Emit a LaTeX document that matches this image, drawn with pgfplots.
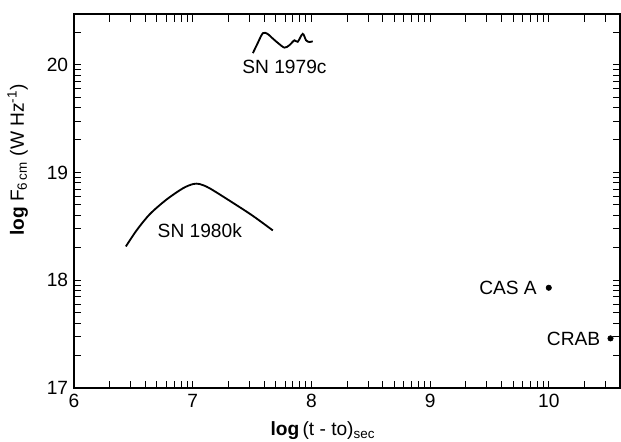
\documentclass[border=0pt]{standalone}
\usepackage{fontspec}
\setmainfont{Liberation Sans}
\usepackage{pgfplots}
\pgfplotsset{compat=1.18}
\begin{document}
\begin{tikzpicture}
\begin{axis}[name=ax, scale only axis, width=327.6pt, height=224.4pt,
 xmin=6, xmax=10.6, ymin=17, ymax=20.47,
 xtick={6,7,8,9,10}, ytick={17,18,19,20},
 minor xtick={6.301,6.477,6.602,6.699,6.778,6.845,6.903,6.954,
   7.301,7.477,7.602,7.699,7.778,7.845,7.903,7.954,
   8.301,8.477,8.602,8.699,8.778,8.845,8.903,8.954,
   9.301,9.477,9.602,9.699,9.778,9.845,9.903,9.954,
   10.301,10.477},
 minor ytick={17.301,17.477,17.602,17.699,17.778,17.845,17.903,17.954,
   18.301,18.477,18.602,18.699,18.778,18.845,18.903,18.954,
   19.301,19.477,19.602,19.699,19.778,19.845,19.903,19.954,
   20.301},
 tick pos=both, tick align=inside,
 major tick length=4.5pt, minor tick length=4.5pt,
 every tick/.style={black, line width=0.6pt},
 axis line style={line width=0.7pt},
 /pgf/number format/assume math mode=true,
 tick label style={font=\fontsize{11.5}{13}\selectfont},
 label style={font=\fontsize{11.5}{13}\selectfont},
 xlabel={\textbf{log}\,(t - to)\textsubscript{sec}},
 ylabel={\textbf{log} F\textsubscript{6\,cm} (W Hz\textsuperscript{-1})},
 xlabel style={at={(axis description cs:0.456,-0.115)}, anchor=center},
 ylabel style={at={(axis description cs:-0.103,0.61)}, anchor=center},
 clip=false]
% SN 1979c
\addplot[black, line width=1.1pt, smooth, tension=0.5] coordinates {
 (7.507,20.107) (7.546,20.196) (7.591,20.292) (7.630,20.286) (7.661,20.256)
 (7.714,20.205) (7.773,20.158) (7.815,20.181) (7.857,20.226) (7.885,20.212)
 (7.927,20.286) (7.955,20.226) (7.983,20.21) (8.011,20.217)};
% SN 1980k
\addplot[black, line width=1.1pt, smooth, tension=0.5] coordinates {
 (6.437,18.313) (6.527,18.462) (6.639,18.613) (6.779,18.748) (6.918,18.853)
 (7.003,18.892) (7.059,18.892) (7.143,18.853) (7.339,18.718) (7.507,18.597)
 (7.675,18.462)};
% CAS A, CRAB
\addplot[only marks, mark=*, mark size=1.6pt, black] coordinates {(10.0,17.93) (10.52,17.46)};
\node[font=\fontsize{11.5}{13}\selectfont] at (axis cs:7.773,19.98) {SN 1979c};
\node[font=\fontsize{11.5}{13}\selectfont] at (axis cs:7.06,18.46) {SN 1980k};
\node[font=\fontsize{11.5}{13}\selectfont, anchor=east, inner sep=0pt, xshift=-7pt] at (axis cs:10.0,17.93) {CAS A};
\node[font=\fontsize{11.5}{13}\selectfont, anchor=east, inner sep=0pt, xshift=-6pt] at (axis cs:10.52,17.46) {CRAB};
\end{axis}
\pgfresetboundingbox
\path (ax.south west) ++(-44.4pt,-32.4pt) coordinate (bl);
\path (ax.north east) ++(0.6pt,8.4pt) coordinate (tr);
\path[use as bounding box] (bl) rectangle (tr);
\end{tikzpicture}
\end{document}
